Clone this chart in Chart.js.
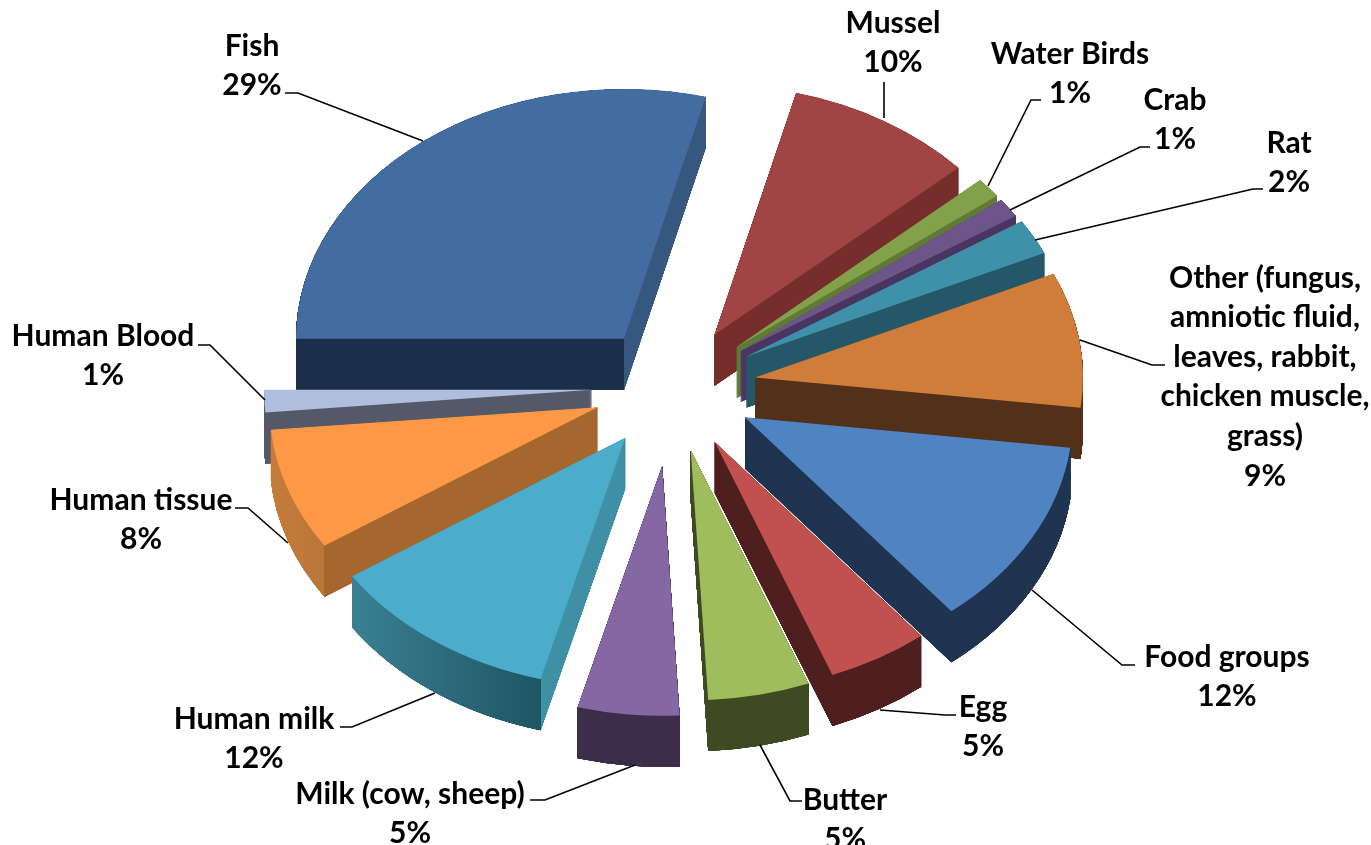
<!DOCTYPE html>
<html><head><meta charset="utf-8">
<style>html,body{margin:0;padding:0;background:#fff;overflow:hidden}canvas{display:block}</style>
<script src="https://cdn.jsdelivr.net/npm/chart.js@4"></script>
</head><body><canvas id="c" width="1371" height="845"></canvas>
<script>
const categories = ["Fish","Mussel","Water Birds","Crab","Rat","Other (fungus, amniotic fluid, leaves, rabbit, chicken muscle, grass)","Food groups","Egg","Butter","Milk (cow, sheep)","Human milk","Human tissue","Human Blood"];
const shares = [29,9.33,1.3,1.25,2.3,8.75,12.2,5,5,5,11.5,7.9,1.44];
const printedPercents = [29,10,1,1,2,9,12,5,5,5,12,8,1];
const topColors = ["#436CA0","#A04543","#83A14A","#6D5489","#3E91A8","#CF7D39","#5083C1","#C1514E","#9FBD5C","#8567A3","#4BADCA","#FD9847","#AFBEDD"];
// wall paint: [outer-rim start colour, outer-rim end colour, radial-side colour]
const wallColors = [
 ["#1C2F4A","#1C2F4A","#36587F"],["#752E2C","#752E2C","#752E2C"],["#5F7A36","#5F7A36","#5F7A36"],
 ["#4A3560","#4A3560","#4A3560"],["#245868","#245868","#245868"],["#52301A","#52301A","#52301A"],
 ["#1F3450","#1F3450","#1F3450"],["#4F1F1F","#4F1F1F","#4F1F1F"],["#404A22","#404A22","#404A22"],
 ["#3D2C4A","#352844","#352844"],["#3A8094","#1F5563","#3F8FA5"],["#C67C39","#B9763A","#A6672E"],["#535966","#535966","#535966"]];
const wallSplit = ["apex",null,null,null,null,null,null,null,null,null,"start","start",null];
const explode = [80,80,82,82,83,83,82,83,85,104,82,80,81];
const tilt = 0.762, wallDepth = 51, pieRadius = 328;

// label placement: centre x, first-line mid y
const labelLines = [["Fish"],["Mussel"],["Water Birds"],["Crab"],["Rat"],["Other (fungus,","amniotic fluid,","leaves, rabbit,","chicken muscle,","grass)"],["Food groups"],["Egg"],["Butter"],["Milk (cow, sheep)"],["Human milk"],["Human tissue"],["Human Blood"]];
const labelAnchors = [[252,46],[893,23],[1070,54],[1175,100],[1289,143],[1265,278],[1227,657],[983,707],[845,800],[410,794],[254,719],[141,500],[103,336]];
const leaders = [
 [[285,93],[298,93],[423,141]],[[884,82],[884,118]],[[1041,100],[1031,100],[988,186]],
 [[1150,147],[1140,147],[1010,210]],[[1263,189],[1253,189],[1035,240]],[[1165,365],[1152,365],[1080,340]],
 [[1135,665],[1122,665],[1032,590]],[[956,715],[945,715],[880,710]],[[802,801],[790,801],[760,745]],
 [[530,800],[545,800],[635,765]],[[340,727],[352,727],[435,693]],[[235,508],[248,508],[288,543]],[[198,345],[210,345],[265,400]]];

const lineGap = 39.6;
const pie3d = {
  id:'pie3d',
  beforeDatasetDraw(){ return false; },
  afterDatasetsDraw(chart){
    const ctx = chart.ctx, arcs = chart.getDatasetMeta(0).data;
    const off = document.createElement('canvas');
    off.width = ctx.canvas.width; off.height = ctx.canvas.height;
    const oc = off.getContext('2d');
    const order = arcs.map((a,i)=>i).sort((p,q)=>{
      const m=a=>Math.sin((arcs[a].startAngle+arcs[a].endAngle)/2);
      return m(p)-m(q);
    });
    const shift = i=>{ const a=arcs[i],mid=(a.startAngle+a.endAngle)/2; return [Math.cos(mid)*explode[i],Math.sin(mid)*explode[i]]; };
    const place = (c,i,drop)=>{
      const a = arcs[i], s=shift(i);
      c.translate(0,drop+a.y); c.scale(1,tilt); c.translate(0,-a.y);
      c.translate(s[0],s[1]);
    };
    const paint = (c,i)=>{
      const a=arcs[i],w=wallColors[i],r=a.outerRadius,sx=shift(i)[0];
      if(wallSplit[i]===null) return w[0];
      const xs=[a.x,a.x+r*Math.cos(a.startAngle),a.x+r*Math.cos(a.endAngle)];
      const x0=Math.min(...xs), x1=Math.max(...xs);
      const sp=wallSplit[i]==='apex'?a.x:a.x+r*Math.cos(a.startAngle);
      const f=Math.min(1,Math.max(0,(sp-x0)/(x1-x0)));
      const g=c.createLinearGradient(x0+sx,0,x1+sx,0);
      g.addColorStop(0,w[0]);g.addColorStop(f,w[1]);g.addColorStop(f,w[2]);g.addColorStop(1,w[2]);
      return g;
    };
    const drawArc=(c,i,color)=>{
      const ghost=Object.create(arcs[i]);
      ghost.options=Object.assign({},arcs[i].options,{backgroundColor:color,borderWidth:0,offset:0});
      Chart.ArcElement.prototype.draw.call(ghost,c);
    };
    order.forEach(i=>{
      // wall: stack the slice shape off-screen, saturate it, then flood it with one paint
      oc.globalCompositeOperation='source-over';
      oc.clearRect(0,0,off.width,off.height);
      for(let d=wallDepth;d>0;d-=0.5){ oc.save(); place(oc,i,d); drawArc(oc,i,'#000'); oc.restore(); }
      for(let n=0;n<3;n++) oc.drawImage(off,0,0);
      oc.globalCompositeOperation='source-in';
      oc.fillStyle=paint(oc,i);
      oc.fillRect(0,0,off.width,off.height);
      ctx.drawImage(off,0,0);
      ctx.save(); place(ctx,i,0); drawArc(ctx,i,topColors[i]); ctx.restore();
    });
    ctx.save();
    ctx.strokeStyle='#000';ctx.lineWidth=1.6;
    leaders.forEach(l=>{ctx.beginPath();l.forEach((p,j)=>j?ctx.lineTo(p[0],p[1]):ctx.moveTo(p[0],p[1]));ctx.stroke();});
    ctx.fillStyle='#000';ctx.font='bold 30px Lato';ctx.textAlign='center';ctx.textBaseline='middle';
    categories.forEach((c,i)=>{
      const [x,y]=labelAnchors[i];
      const lines=labelLines[i].concat(printedPercents[i]+'%');
      lines.forEach((t,j)=>ctx.fillText(t,x,y+j*lineGap));
    });
    ctx.restore();
  }
};
new Chart(document.getElementById('c'),{
  type:'pie',
  data:{labels:categories,datasets:[{data:shares,backgroundColor:topColors,borderWidth:0}]},
  options:{responsive:false,animation:false,rotation:270,radius:pieRadius,
    layout:{padding:{left:0,right:25,top:0,bottom:71}},
    plugins:{legend:{display:false},tooltip:{enabled:false}}},
  plugins:[pie3d]
});
</script></body></html>
